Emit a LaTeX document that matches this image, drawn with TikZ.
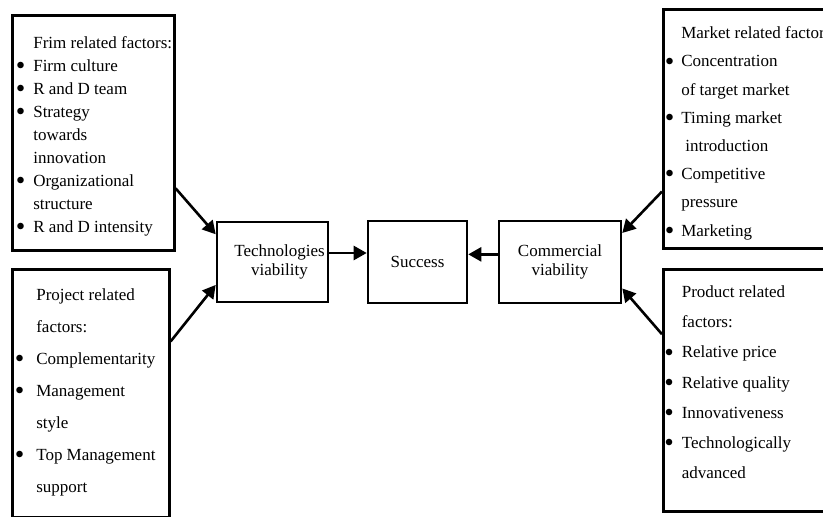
\documentclass[tikz,border=0pt]{standalone}
\usepackage{fontspec}
\setmainfont{Liberation Serif}
\usetikzlibrary{positioning,arrows.meta}
\tikzset{
    box/.style = {
        draw,
        shape=rectangle,
        line width=2.6pt,
        align=center,
        font=\fontsize{17}{18.5}\selectfont
    },
    factor/.style = {
        draw,
        shape=rectangle,
        line width=2.6pt,
        anchor=north west
    },
    list/.style = {
        align=left,
        inner sep=0pt
    },
    link/.style = {
        draw,
        line width=2.6pt,
        ->
    },
    >={Triangle[length=13pt,width=14pt]},
}
\newcommand{\bul}[1][8pt]{\llap{\raisebox{-3.3pt}{\scalebox{1.6}{\textbullet}}\hspace{#1}}}

\begin{document}
\begin{tikzpicture}[x=1pt, y=-1pt]
        \useasboundingbox (0,0) rectangle (823,517);

        % factor boxes
        \node[factor, minimum width=162pt, minimum height=235pt] (firm) at (11,14) {};
        \node[factor, minimum width=157pt, minimum height=248pt] (project) at (11,268) {};
        \node[factor, minimum width=170pt, minimum height=239pt] (market) at (662,8) {};
        \node[factor, minimum width=170pt, minimum height=242pt] (product) at (662,268) {};

        \node[list, font=\fontsize{17}{23}\selectfont, below right=22.5pt and 22.1pt of firm.north west] (firmlist)
            {Frim related factors:\\ \bul Firm culture\\ \bul R and D team\\ \bul Strategy\\ towards\\ innovation\\
             \bul Organizational\\ structure\\ \bul R and D intensity};
        \node[list, font=\fontsize{17}{32}\selectfont, below right=20.5pt and 25.1pt of project.north west] (projectlist)
            {Project related\\ factors:\\ \bul[12pt]Complementarity\\ \bul[12pt]Management\\ style\\
             \bul[12pt]Top Management\\ support};
        \node[list, font=\fontsize{17}{28.2}\selectfont, below right=18.5pt and 19.1pt of market.north west] (marketlist)
            {Market related factors\\ \bul[7pt]Concentration\\ of target market\\ \bul[7pt]Timing market\\
             \hspace*{4pt}introduction\\ \bul[7pt]Competitive\\ pressure\\ \bul[7pt]Marketing};
        \node[list, font=\fontsize{17}{30.2}\selectfont, below right=17.5pt and 19.6pt of product.north west] (productlist)
            {Product related\\ factors:\\ \bul Relative price\\ \bul Relative quality\\ \bul Innovativeness\\
             \bul Technologically\\ advanced};

        % middle row
        \node[box, minimum width=99pt, minimum height=82pt] (success) at (417.5,262) {Success};
        \node[box, on grid, left=145pt of success, inner xsep=0pt, minimum width=111pt, minimum height=80pt] (tech)
            {\hspace*{14pt}Technologies\\\hspace*{14pt}viability};
        \node[box, on grid, right=142.5pt of success, minimum width=122pt, minimum height=82pt] (comm) {Commercial\\viability};

        \path[link] (tech.9) -- (tech.9 -| success.west);
        \path[link] (comm.173) -- (comm.173 -| success.east);

        \path[link] (firm.-34) -- (tech.154);
        \path[link] (project.33) -- (tech.202);
        \path[link] (market.216) -- (comm.25);
        \path[link] (product.147) -- (comm.-23);

\end{tikzpicture}
\end{document}
